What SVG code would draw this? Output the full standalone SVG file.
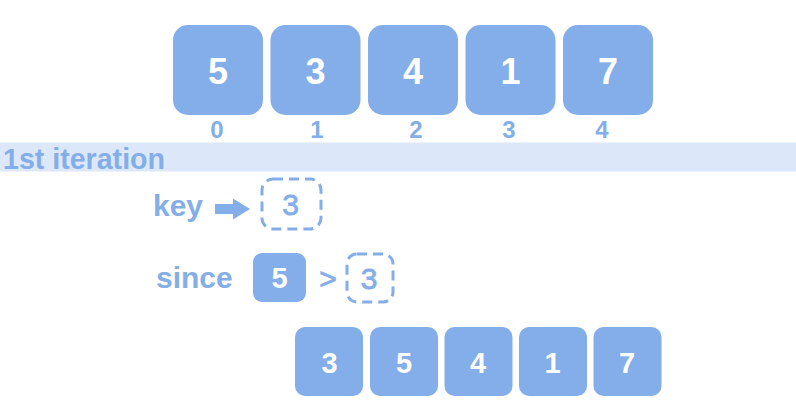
<svg xmlns="http://www.w3.org/2000/svg" width="796" height="406" viewBox="0 0 796 406">
<defs>
<style>
.box{fill:#83aee9;}
.dash{fill:none;stroke:#83aee9;stroke-width:3;stroke-dasharray:10 6;}
.big{font-family:"Liberation Sans",Arial,sans-serif;font-weight:bold;font-size:36px;fill:#ffffff;text-anchor:middle;}
.mid{font-family:"Liberation Sans",Arial,sans-serif;font-weight:bold;font-size:29px;fill:#ffffff;text-anchor:middle;}
.idx{font-family:"Liberation Sans",Arial,sans-serif;font-weight:bold;font-size:24px;fill:#84aee8;text-anchor:middle;}
.lbl{font-family:"Liberation Sans",Arial,sans-serif;font-weight:bold;font-size:30px;fill:#84aee8;}
.num{font-family:"Liberation Sans",Arial,sans-serif;font-size:30px;fill:#84aee8;stroke:#84aee8;stroke-width:0.8;text-anchor:middle;}
</style>
</defs>
<rect width="796" height="406" fill="#ffffff"/>
<g id="array-top">
<g id="top-0"><rect class="box" x="173" y="25" width="90" height="90" rx="15"/><text class="big" x="218" y="84">5</text></g>
<g id="top-1"><rect class="box" x="270.5" y="25" width="90" height="90" rx="15"/><text class="big" x="315.5" y="84">3</text></g>
<g id="top-2"><rect class="box" x="368" y="25" width="90" height="90" rx="15"/><text class="big" x="413" y="84">4</text></g>
<g id="top-3"><rect class="box" x="465.5" y="25" width="90" height="90" rx="15"/><text class="big" x="510.5" y="84">1</text></g>
<g id="top-4"><rect class="box" x="563" y="25" width="90" height="90" rx="15"/><text class="big" x="608" y="84">7</text></g>
</g>
<g id="indices">
<text class="idx" x="217" y="137.5">0</text>
<text class="idx" x="317" y="137.5">1</text>
<text class="idx" x="416" y="137.5">2</text>
<text class="idx" x="509" y="137.5">3</text>
<text class="idx" x="602" y="137.5">4</text>
</g>
<g id="band">
<rect x="0" y="142.5" width="796" height="29" fill="#dce8f9"/>
<text class="lbl" x="3" y="168.5" font-size="31" textLength="162" lengthAdjust="spacingAndGlyphs">1st iteration</text>
</g>
<g id="key-row">
<text class="lbl" x="153" y="216">key</text>
<g id="key-box"><rect class="dash" x="262" y="179" width="59" height="50" rx="11"/><text class="num" x="290.5" y="215">3</text></g>
</g>
<g id="connectors">
<path d="M215 204 H233 V198.5 L250 209 L233 219.5 V214 H215 Z" fill="#83aee9"/>
</g>
<g id="since-row">
<text class="lbl" x="156" y="288">since</text>
<g id="since-5"><rect class="box" x="253" y="253" width="53" height="49" rx="9"/><text class="mid" x="279.5" y="288">5</text></g>
<text class="num" x="328" y="289" font-size="26" stroke-width="0.3">&gt;</text>
<g id="since-3"><rect class="dash" x="347" y="254" width="46" height="48" rx="10"/><text class="num" x="369" y="289">3</text></g>
</g>
<g id="array-bottom">
<g id="bot-0"><rect class="box" x="295" y="327" width="68" height="69" rx="10"/><text class="mid" x="329.5" y="372.5">3</text></g>
<g id="bot-1"><rect class="box" x="370" y="327" width="68" height="69" rx="10"/><text class="mid" x="404" y="372.5">5</text></g>
<g id="bot-2"><rect class="box" x="444.5" y="327" width="68" height="69" rx="10"/><text class="mid" x="478" y="372.5">4</text></g>
<g id="bot-3"><rect class="box" x="519" y="327" width="68" height="69" rx="10"/><text class="mid" x="552.5" y="372.5">1</text></g>
<g id="bot-4"><rect class="box" x="593.5" y="327" width="68" height="69" rx="10"/><text class="mid" x="627" y="372.5">7</text></g>
</g>
</svg>
